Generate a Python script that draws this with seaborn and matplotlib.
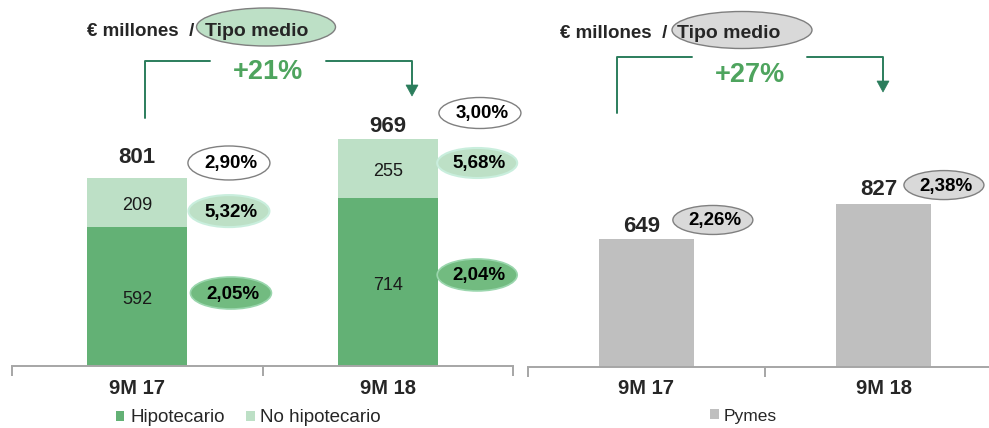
import matplotlib
matplotlib.use("Agg")
import matplotlib.pyplot as plt
import seaborn as sns
from matplotlib.patches import Ellipse, Patch, Polygon
from matplotlib.lines import Line2D
from matplotlib.transforms import ScaledTranslation

# ---------------- data ----------------
periods = ["9M 17", "9M 18"]
hipotecario = [592, 714]
no_hipotecario = [209, 255]
consumo_total = [801, 969]
rate_total = ["2,90%", "3,00%"]
rate_no_hip = ["5,32%", "5,68%"]
rate_hip = ["2,05%", "2,04%"]
growth_consumo = "+21%"
pymes = [649, 827]
rate_pymes = ["2,26%", "2,38%"]
growth_pymes = "+27%"
legend_left = ["Hipotecario", "No hipotecario"]
legend_right = ["Pymes"]
header_units = "€ millones  /"
header_rate = "Tipo medio"

# ---------------- style ----------------
GREEN = "#63b175"
LIGHT = "#bde0c6"
GREY_BAR = "#bfbfbf"
AXIS = "#a6a6a6"
ARROW = "#2b7d5c"
GROWTH = "#4ea45e"

sns.set_theme(style="white")
plt.rcParams["font.family"] = ["Liberation Sans", "DejaVu Sans"]

W, H = 989, 428
fig = plt.figure(figsize=(W / 100, H / 100), dpi=100)
fig.patch.set_facecolor("white")


def fx(px):
    return px / W


def fy(py):
    return 1 - py / H


def P(x, y):
    return x / 100, (H - y) / 100


FIG = fig.dpi_scale_trans

axL = fig.add_axes([fx(12), fy(366), (513 - 12) / W, 366 / H])
axR = fig.add_axes([fx(528), fy(367), (1002 - 528) / W, 367 / H])

# stacked bars (total first = light top segment, then hipotecario on top)
sns.barplot(x=periods, y=consumo_total, color=LIGHT, width=0.4, saturation=1,
            linewidth=0, ax=axL)
sns.barplot(x=periods, y=hipotecario, color=GREEN, width=0.4, saturation=1,
            linewidth=0, ax=axL)
sns.barplot(x=periods, y=pymes, color=GREY_BAR, width=0.4, saturation=1,
            linewidth=0, ax=axR)

axL.set_ylim(0, 366 / 0.2347)
axR.set_ylim(0, 367 / 0.1971)

for ax in (axL, axR):
    ax.set_xlim(-0.5, 1.5)
    ax.set(xlabel="", ylabel="")
    ax.set_facecolor("none")
    for s in ("left", "right", "top"):
        ax.spines[s].set_visible(False)
    ax.spines["bottom"].set_color(AXIS)
    ax.spines["bottom"].set_linewidth(1.4)
    ax.set_yticks([])
    ax.set_xticks([0, 1])
    ax.set_xticklabels(periods, fontsize=14.5, fontweight="bold")
    ax.set_xticks([-0.5, 0.5, 1.5], minor=True)
    ax.tick_params(axis="x", which="major", length=0, pad=9, bottom=True)
    ax.tick_params(axis="x", which="minor", length=7, width=1.4,
                   color=AXIS, bottom=True, direction="out")


def rate_ellipse(ax, xd, yd, w, h, fc, ec, label, lw=1.0, fs=13.5):
    tr = FIG + ScaledTranslation(xd, yd, ax.transData)
    e = Ellipse((0, 0), w / 100, h / 100, transform=tr, fc=fc, ec=ec,
                lw=lw, clip_on=False, zorder=5)
    ax.add_artist(e)
    ax.text(0.02, -0.01, label, transform=tr, ha="center", va="center",
            fontsize=fs, fontweight="bold", color="black", zorder=6,
            clip_on=False)


# ---- left panel labels ----
tot_label_y = [890, 1020]
tot_rate_y = [865, 1078]
for i in range(2):
    axL.text(i, tot_label_y[i], str(consumo_total[i]), ha="center",
             va="center", fontsize=16, fontweight="bold")
    axL.text(i, hipotecario[i] / 2 - 14, str(hipotecario[i]), ha="center",
             va="center", fontsize=13, color="#1a1a1a")
    axL.text(i, hipotecario[i] + no_hipotecario[i] / 2 - 14,
             str(no_hipotecario[i]), ha="center", va="center", fontsize=13,
             color="#1a1a1a")

rate_ellipse(axL, 0.366, tot_rate_y[0], 82, 34, "white", "#808080", rate_total[0])
rate_ellipse(axL, 1.368, tot_rate_y[1], 82, 31, "white", "#808080", rate_total[1])
rate_ellipse(axL, 0.366, 660, 81, 32, LIGHT, "#c9eedd", rate_no_hip[0], lw=1.5)
rate_ellipse(axL, 1.357, 865, 80, 30, LIGHT, "#c9eedd", rate_no_hip[1], lw=1.5)
rate_ellipse(axL, 0.374, 311, 81, 32, "#72bb80", "#9ad6ad", rate_hip[0], lw=1.2)
rate_ellipse(axL, 1.357, 388, 80, 32, "#72bb80", "#9ad6ad", rate_hip[1], lw=1.2)

# ---- right panel labels ----
pym_label_y = [715, 903]
pym_rate_y = [746, 923]
pym_rate_x = [0.28, 1.255]
for i in range(2):
    axR.text(i - 0.02, pym_label_y[i], str(pymes[i]), ha="center",
             va="center", fontsize=16, fontweight="bold")
    rate_ellipse(axR, pym_rate_x[i], pym_rate_y[i], 80, 29, "#d9d9d9",
                 "#808080", rate_pymes[i])

# ---- headers ----
for (tx, ecx, ecy, ew, eh, efc, ttx, tty) in [
        (87, 266, 27, 139, 38, LIGHT, 257, 31),
        (560, 742, 30, 140, 37, "#d9d9d9", 729, 33)]:
    fig.text(*P(tx, tty), header_units, transform=FIG, ha="left",
             va="center", fontsize=13.5, fontweight="bold", zorder=3)
    fig.add_artist(Ellipse(P(ecx, ecy), ew / 100, eh / 100, transform=FIG,
                           fc=efc, ec="#7f7f7f", lw=1.0, zorder=4))
    fig.text(*P(ttx, tty), header_rate, transform=FIG, ha="center",
             va="center", fontsize=14, fontweight="bold", zorder=5)

# ---- growth brackets ----
for (x0, ybot, ytop, g0, g1, x1, yarr, gx, gy, lab) in [
        (145, 118, 61, 210, 326, 412, 85, 268, 72, growth_consumo),
        (617, 113, 57, 692, 807, 883, 81, 750, 75, growth_pymes)]:
    xs, ys = zip(*[P(x0, ybot), P(x0, ytop), P(g0, ytop)])
    fig.add_artist(Line2D(xs, ys, transform=FIG, color=ARROW, lw=1.4))
    xs, ys = zip(*[P(g1, ytop), P(x1, ytop), P(x1, yarr)])
    fig.add_artist(Line2D(xs, ys, transform=FIG, color=ARROW, lw=1.4))
    fig.add_artist(Polygon([P(x1 - 6, yarr), P(x1 + 6, yarr), P(x1, yarr + 11)],
                           closed=True, transform=FIG, fc=ARROW, ec=ARROW, lw=0.5))
    fig.text(*P(gx, gy), lab, transform=FIG, ha="center", va="center",
             fontsize=19.5, fontweight="bold", color=GROWTH)

# ---- legends ----
fig.legend(handles=[Patch(fc=GREEN, ec="none"), Patch(fc=LIGHT, ec="none")],
           labels=legend_left, loc="center left",
           bbox_to_anchor=(fx(116), fy(418)), ncol=2, frameon=False,
           fontsize=13.5, handlelength=0.45, handleheight=0.45,
           handletextpad=0.3, columnspacing=1.15, borderpad=0,
           borderaxespad=0)
fig.legend(handles=[Patch(fc=GREY_BAR, ec="none")], labels=legend_right,
           loc="center left", bbox_to_anchor=(fx(710), fy(416)), ncol=1,
           frameon=False, fontsize=12.5, handlelength=0.5, handleheight=0.5,
           handletextpad=0.3, borderpad=0, borderaxespad=0)

fig.savefig("out.png", dpi=100, facecolor="white")
